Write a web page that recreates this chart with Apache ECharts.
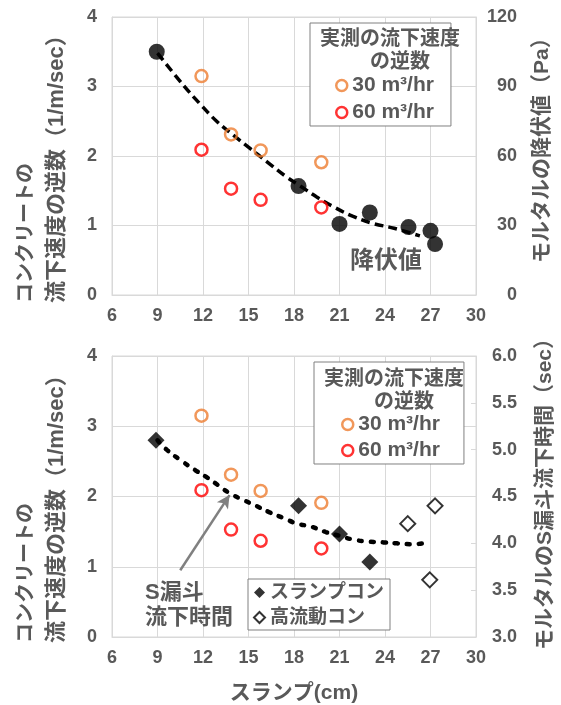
<!DOCTYPE html>
<html><head><meta charset="utf-8">
<script src="https://cdn.jsdelivr.net/npm/echarts@6/dist/echarts.min.js"></script>
<style>html,body{margin:0;padding:0;background:#fff}#c{width:561px;height:705px}</style>
</head><body><div id="c"></div><script>
// ---- data ----
const slumpMin = 6, slumpMax = 30, slumpStep = 3;
const invMin = 0, invMax = 4, invStep = 1;
const paMin = 0, paMax = 120, paStep = 30;
const secMin = 3, secMax = 6, secStep = 0.5;

// measured inverse flow speed (1/m/sec)
const flowX = [11.9, 13.85, 15.8, 19.8];
const inv30 = [3.15, 2.31, 2.08, 1.91];
const inv60 = [2.09, 1.53, 1.37, 1.26];

// mortar yield value (Pa)
const yieldX  = [8.95, 18.3, 21.0, 23.0, 25.55, 27.0, 27.3];
const yieldPa = [105, 47.0, 30.7, 35.6, 29.3, 27.7, 22.0];
const yieldTrendX  = [9.0, 10.7, 11.8, 12.9, 14.0, 15.1, 16.2, 17.5, 18.4, 19.5, 20.6, 21.9, 23.2, 24.6, 26.3];
const yieldTrendPa = [104.4, 90.6, 82.5, 75.0, 69.0, 63.3, 57.6, 51.0, 47.1, 42.3, 38.1, 33.9, 30.9, 28.8, 25.5];

// mortar S-funnel flow time (sec)
const slumpConX   = [8.9, 18.3, 21.0, 23.0];
const slumpConSec = [5.10, 4.40, 4.10, 3.80];
const highFlowX   = [25.5, 27.3, 26.95];
const highFlowSec = [4.21, 4.40, 3.61];
const funnelTrendX   = [9.0, 9.6, 10.5, 11.5, 12.3, 13.0, 13.8, 14.7, 15.5, 16.4, 17.3, 18.2, 19.1, 20.1, 21.0, 21.9, 22.8, 23.9, 24.8, 25.8, 26.9];
const funnelTrendSec = [5.10, 5.00, 4.89, 4.78, 4.70, 4.62, 4.53, 4.46, 4.40, 4.33, 4.27, 4.21, 4.18, 4.12, 4.08, 4.04, 4.02, 4.01, 4.00, 3.99, 4.01];

// arrow annotation (from label to curve), in chart units (x, 1/m/sec)
const arrowFrom = [10.5, 0.95];
const arrowTo   = [13.75, 2.02];

// ---- styles ----
const FONT = "'Liberation Sans', 'Noto Sans CJK JP', sans-serif";
const GRAY = '#595959';
const GRID = '#d9d9d9';
const ORANGE = '#ED7D31';
const RED = '#FF0000';
const zip = (a, b) => a.map((v, i) => [v, b[i]]);

function xAxis(grid, withName) {
  const ax = {
    gridIndex: grid, type: 'value', min: slumpMin, max: slumpMax, interval: slumpStep,
    axisLine: { lineStyle: { color: GRID } }, axisTick: { show: false },
    splitLine: { show: true, lineStyle: { color: GRID } },
    axisLabel: { margin: 12, color: GRAY, fontSize: 18, fontWeight: 'bold', fontFamily: FONT }
  };
  if (withName) {
    ax.name = 'スランプ(cm)'; ax.nameLocation = 'middle'; ax.nameGap = 46;
    ax.nameTextStyle = { color: GRAY, fontSize: 21, fontWeight: 'bold', fontFamily: FONT };
  }
  return ax;
}
function yLeft(grid) {
  return {
    gridIndex: grid, type: 'value', position: 'left', min: invMin, max: invMax, interval: invStep,
    axisLine: { show: true, lineStyle: { color: GRID } }, axisTick: { show: false },
    splitLine: { show: true, lineStyle: { color: GRID } },
    axisLabel: { margin: 15, color: GRAY, fontSize: 18, fontWeight: 'bold', fontFamily: FONT }
  };
}
function yRight(grid, mn, mx, st, dec, pad) {
  return {
    gridIndex: grid, type: 'value', position: 'right', min: mn, max: mx, interval: st,
    axisLine: { show: true, lineStyle: { color: GRID } },
    axisTick: { show: true, inside: true, length: 5, lineStyle: { color: GRID } },
    splitLine: { show: false },
    axisLabel: { margin: 41, align: 'right', padding: pad, color: GRAY, fontSize: 18, fontWeight: 'bold', fontFamily: FONT,
      formatter: v => v.toFixed(dec) }
  };
}

const openCircle = (color) => ({ color: '#fff', borderColor: color, borderWidth: 2.5 });

const legendText = { color: GRAY, fontSize: 21, fontWeight: 'bold', fontFamily: FONT };
const titleText = { color: GRAY, fontSize: 20, fontWeight: 'bold', fontFamily: FONT, lineHeight: 23 };

const chart = echarts.init(document.getElementById('c'), null, { renderer: 'canvas' });
chart.setOption({
  animation: false,
  backgroundColor: '#fff',
  grid: [
    { left: 112, right: 85, top: 17, height: 278, show: true, borderColor: GRID, borderWidth: 1 },
    { left: 112, right: 85, top: 356, height: 281, show: true, borderColor: GRID, borderWidth: 1 }
  ],
  xAxis: [xAxis(0, false), xAxis(1, true)],
  yAxis: [
    yLeft(0),
    yRight(0, paMin, paMax, paStep, 0, 0),
    yLeft(1),
    yRight(1, secMin, secMax, secStep, 1, [9, 0, 0, 0])
  ],
  title: [
    { text: '実測の流下速度\n　の逆数', left: 390, top: 28, textAlign: 'center', z: 10, padding: 0, textStyle: titleText },
    { text: '実測の流下速度\n　の逆数', left: 394, top: 368, textAlign: 'center', z: 10, padding: 0, textStyle: titleText }
  ],
  legend: [
    { left: 310, top: 23, orient: 'vertical', z: 3, padding: [52, 17, 3, 25], itemGap: 6, itemWidth: 11, itemHeight: 11,
      borderColor: '#808080', borderWidth: 1, backgroundColor: '#fff', textStyle: legendText, selectedMode: false,
      data: [
        { name: '30 m³/hr', icon: 'circle', itemStyle: openCircle(ORANGE) },
        { name: '60 m³/hr', icon: 'circle', itemStyle: openCircle(RED) }
      ] },
    { left: 314, top: 362, orient: 'vertical', z: 3, padding: [52, 24, 3, 27], itemGap: 5, itemWidth: 11, itemHeight: 11,
      borderColor: '#808080', borderWidth: 1, backgroundColor: '#fff', textStyle: legendText, selectedMode: false,
      data: [
        { name: '30 m³/hr', icon: 'circle', itemStyle: openCircle(ORANGE) },
        { name: '60 m³/hr', icon: 'circle', itemStyle: openCircle(RED) }
      ] },
    { left: 248, top: 579, orient: 'vertical', z: 3, padding: [4, 6, 3, 5], itemGap: 6, itemWidth: 11, itemHeight: 11,
      borderColor: '#808080', borderWidth: 1, backgroundColor: '#fff',
      textStyle: { color: GRAY, fontSize: 19, fontWeight: 'bold', fontFamily: FONT }, selectedMode: false,
      data: [
        { name: 'スランプコン', icon: 'diamond', itemStyle: { color: '#000', borderWidth: 0 } },
        { name: '高流動コン', icon: 'diamond', itemStyle: { color: '#fff', borderColor: '#000', borderWidth: 2 } }
      ] }
  ],
  graphic: [
    { type: 'text', x: 26, y: 303, rotation: Math.PI / 2, style: { text: 'コンクリートの', fill: GRAY, fontSize: 20, fontWeight: 'bold', fontFamily: FONT, align: 'left', verticalAlign: 'middle' } },
    { type: 'text', x: 57, y: 303, rotation: Math.PI / 2, style: { text: '流下速度の逆数（1/m/sec）', fill: GRAY, fontSize: 22, fontWeight: 'bold', fontFamily: FONT, align: 'left', verticalAlign: 'middle' } },
    { type: 'text', x: 26, y: 643, rotation: Math.PI / 2, style: { text: 'コンクリートの', fill: GRAY, fontSize: 20, fontWeight: 'bold', fontFamily: FONT, align: 'left', verticalAlign: 'middle' } },
    { type: 'text', x: 57, y: 643, rotation: Math.PI / 2, style: { text: '流下速度の逆数（1/m/sec）', fill: GRAY, fontSize: 22, fontWeight: 'bold', fontFamily: FONT, align: 'left', verticalAlign: 'middle' } },
    { type: 'text', x: 542, y: 263, rotation: Math.PI / 2, style: { text: 'モルタルの降伏値（Pa）', fill: GRAY, fontSize: 21, fontWeight: 'bold', fontFamily: FONT, align: 'left', verticalAlign: 'middle' } },
    { type: 'text', x: 545, y: 650, rotation: Math.PI / 2, style: { text: 'モルタルのS漏斗流下時間（sec）', fill: GRAY, fontSize: 21, fontWeight: 'bold', fontFamily: FONT, align: 'left', verticalAlign: 'middle' } },
    { type: 'text', x: 350, y: 249, z: 5, style: { text: '降伏値', fill: GRAY, fontSize: 24, fontWeight: 'bold', fontFamily: FONT } },
    { type: 'text', x: 145, y: 580, z: 5, style: { text: 'S漏斗\n流下時間', fill: GRAY, fontSize: 22, lineHeight: 25, fontWeight: 'bold', fontFamily: FONT } }
  ],
  series: [
    // top chart
    { name: '降伏値近似', type: 'line', xAxisIndex: 0, yAxisIndex: 1, data: zip(yieldTrendX, yieldTrendPa), smooth: 0.4,
      showSymbol: false, symbol: 'none', lineStyle: { color: '#000', width: 3.5, type: [9, 5] }, z: 2, silent: true },
    { name: '30 m³/hr', type: 'scatter', xAxisIndex: 0, yAxisIndex: 0, data: zip(flowX, inv30), symbol: 'circle', symbolSize: 12,
      itemStyle: { color: 'rgba(255,255,255,0)', borderColor: ORANGE, borderWidth: 2.5 }, z: 3 },
    { name: '60 m³/hr', type: 'scatter', xAxisIndex: 0, yAxisIndex: 0, data: zip(flowX, inv60), symbol: 'circle', symbolSize: 12,
      itemStyle: { color: 'rgba(255,255,255,0)', borderColor: RED, borderWidth: 2.5 }, z: 3 },
    { name: '降伏値', type: 'scatter', xAxisIndex: 0, yAxisIndex: 1, data: zip(yieldX, yieldPa), symbol: 'circle', symbolSize: 16,
      itemStyle: { color: '#000' }, z: 4 },
    // bottom chart
    { name: 'S漏斗近似', type: 'line', xAxisIndex: 1, yAxisIndex: 3, data: zip(funnelTrendX, funnelTrendSec), smooth: 0.4,
      showSymbol: false, symbol: 'none', lineStyle: { color: '#000', width: 4.5, type: [3, 9], cap: 'round' }, z: 2, silent: true },
    { name: '30 m³/hr', type: 'scatter', xAxisIndex: 1, yAxisIndex: 2, data: zip(flowX, inv30), symbol: 'circle', symbolSize: 12,
      itemStyle: { color: 'rgba(255,255,255,0)', borderColor: ORANGE, borderWidth: 2.5 }, z: 3,
      markLine: { silent: true, symbol: ['none', 'arrow'], symbolSize: [10, 13], label: { show: false },
        lineStyle: { color: '#808080', width: 2.5, type: 'solid' },
        data: [[{ coord: arrowFrom }, { coord: arrowTo }]] } },
    { name: '60 m³/hr', type: 'scatter', xAxisIndex: 1, yAxisIndex: 2, data: zip(flowX, inv60), symbol: 'circle', symbolSize: 12,
      itemStyle: { color: 'rgba(255,255,255,0)', borderColor: RED, borderWidth: 2.5 }, z: 3 },
    { name: 'スランプコン', type: 'scatter', xAxisIndex: 1, yAxisIndex: 3, data: zip(slumpConX, slumpConSec), symbol: 'diamond', symbolSize: 17,
      itemStyle: { color: '#000' }, z: 4 },
    { name: '高流動コン', type: 'scatter', xAxisIndex: 1, yAxisIndex: 3, data: zip(highFlowX, highFlowSec), symbol: 'diamond', symbolSize: 15,
      itemStyle: { color: '#fff', borderColor: '#000', borderWidth: 2 }, z: 4 }
  ]
});
</script></body></html>
